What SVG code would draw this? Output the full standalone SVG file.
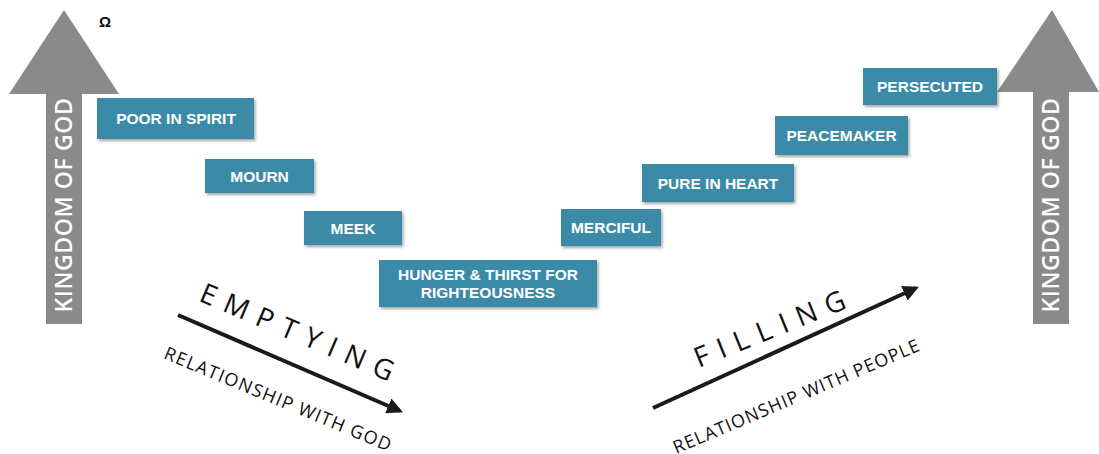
<svg xmlns="http://www.w3.org/2000/svg" width="1099" height="454" viewBox="0 0 1099 454">
<style>
.box{fill:#3a8ba8;filter:url(#sh)}
.bt{font-family:"Liberation Sans",Arial,sans-serif;font-weight:bold;font-size:15.5px;fill:#fff;text-anchor:middle}
.kg{font-family:"Open Sans",Lato,sans-serif;font-weight:600;font-size:23px;fill:#fff;text-anchor:middle;letter-spacing:0.6px}
.big{font-family:"Open Sans",Lato,sans-serif;font-weight:500;font-size:28px;fill:#111;text-anchor:middle;letter-spacing:10px}
.sub{font-family:"Open Sans",Lato,sans-serif;font-weight:500;font-size:18px;fill:#111;text-anchor:middle}
.arr{fill:#8a8a8a}
</style>
<defs>
<filter id="sh" x="-10%" y="-20%" width="130%" height="150%">
<feDropShadow dx="1.5" dy="2" stdDeviation="1.5" flood-color="#000" flood-opacity="0.35"/>
</filter>
<marker id="ah" viewBox="0 0 10 10" refX="8" refY="5" markerWidth="4" markerHeight="4" orient="auto">
<path d="M0,0 L10,5 L0,10 z" fill="#1a1a1a"/>
</marker>
</defs>
<g id="kingdom-left">
<polygon class="arr" points="64,10 119,94 82,94 82,324 46,324 46,94 9,94"/>
<text class="kg" transform="translate(72,205) rotate(-90)">KINGDOM OF GOD</text>
</g>
<g id="kingdom-right">
<polygon class="arr" points="1052,10 1099,92 1069,92 1069,324 1033,324 1033,92 997,92"/>
<text class="kg" transform="translate(1059,205) rotate(-90)">KINGDOM OF GOD</text>
</g>
<g id="omega"><text x="105" y="27" font-family="Liberation Sans,Arial,sans-serif" font-weight="bold" font-size="15" fill="#111" text-anchor="middle">Ω</text></g>
<g id="poor"><rect class="box" x="97" y="98" width="157" height="41"/><text class="bt" x="176" y="124">POOR IN SPIRIT</text></g>
<g id="mourn"><rect class="box" x="205" y="159" width="109" height="34"/><text class="bt" x="259.5" y="181.5">MOURN</text></g>
<g id="meek"><rect class="box" x="304" y="211" width="98" height="34"/><text class="bt" x="353" y="233.5">MEEK</text></g>
<g id="hunger"><rect class="box" x="379" y="260" width="218" height="47"/><text class="bt" x="488" y="279.5">HUNGER &amp; THIRST FOR</text><text class="bt" x="488" y="298">RIGHTEOUSNESS</text></g>
<g id="merciful"><rect class="box" x="561" y="209" width="100" height="37"/><text class="bt" x="611" y="233">MERCIFUL</text></g>
<g id="pure"><rect class="box" x="642" y="164" width="152" height="38"/><text class="bt" x="718" y="188.5">PURE IN HEART</text></g>
<g id="peacemaker"><rect class="box" x="775" y="116" width="133" height="39"/><text class="bt" x="841.5" y="140.5">PEACEMAKER</text></g>
<g id="persecuted"><rect class="box" x="863" y="68" width="134" height="37"/><text class="bt" x="930" y="91.5">PERSECUTED</text></g>
<g id="connectors">
<line x1="178" y1="315" x2="400" y2="411" stroke="#1a1a1a" stroke-width="4" marker-end="url(#ah)"/>
<line x1="653" y1="408" x2="916" y2="288" stroke="#1a1a1a" stroke-width="4" marker-end="url(#ah)"/>
</g>
<g id="emptying">
<text class="big" transform="translate(298,343) rotate(23)">EMPTYING</text>
<text class="sub" transform="translate(276,405) rotate(22.5)" letter-spacing="1.3">RELATIONSHIP WITH GOD</text>
</g>
<g id="filling">
<text class="big" transform="translate(778,336) rotate(-22)">FILLING</text>
<text class="sub" transform="translate(799,402) rotate(-23)" letter-spacing="1">RELATIONSHIP WITH PEOPLE</text>
</g>
</svg>
